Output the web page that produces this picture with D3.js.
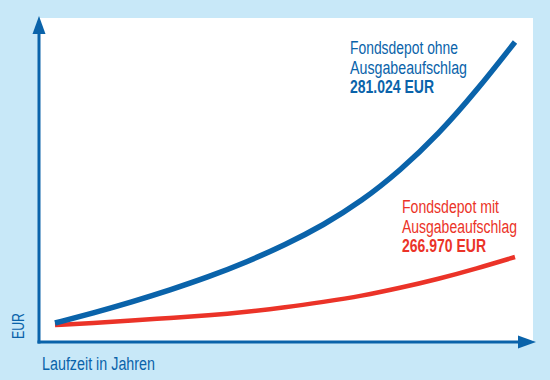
<!DOCTYPE html>
<html><head><meta charset="utf-8">
<script src="https://cdn.jsdelivr.net/npm/d3@7"></script>
<style>html,body{margin:0;padding:0;background:#c8e8f8;}svg{display:block;}</style>
</head><body>
<svg id="c" width="550" height="380"></svg>
<script>
// Data (schematic; values in thousand EUR)
const years = [0, 2.5, 5, 7.5, 10, 12.5, 15, 17.5, 20, 22.5, 25, 27.5, 30];
const ohneValues = [17.8, 27.2, 37.5, 48.7, 60.9, 74.9, 90.9, 109.4, 131.9, 160.4, 194.4, 235.4, 281.0];
const mitValues  = [15.9, 17.8, 20.1, 22.5, 24.8, 28.1, 32.3, 37.5, 43.1, 50.6, 59.0, 68.8, 79.6];
const ohneLabel = ["Fondsdepot ohne", "Ausgabeaufschlag", "281.024 EUR"];
const mitLabel  = ["Fondsdepot mit", "Ausgabeaufschlag", "266.970 EUR"];
const xTitle = "Laufzeit in Jahren";
const yTitle = "EUR";

const BLUE = "#0a63aa", RED = "#eb3328", BG = "#c8e8f8";
const FONT = "'Liberation Sans',Arial,sans-serif";

const svg = d3.select("#c");
svg.append("rect").attr("width",550).attr("height",380).attr("fill",BG);

const x = d3.scaleLinear().domain([0,30]).range([55,515]);
const y = d3.scaleLinear().domain([0,281]).range([342,42]);

// plot area
svg.append("rect").attr("x",39).attr("y",18).attr("width",494).attr("height",324).attr("fill","#fff");

const line = d3.line().x((d,i)=>x(years[i])).y(d=>y(d)).curve(d3.curveBasis);
svg.append("path").attr("d",line(mitValues)).attr("fill","none").attr("stroke",RED).attr("stroke-width",4.5);
svg.append("path").attr("d",line(ohneValues)).attr("fill","none").attr("stroke",BLUE).attr("stroke-width",5.5);

// axes
const ax = 39, ay = 342;
svg.append("line").attr("x1",ax).attr("y1",ay+1.5).attr("x2",ax).attr("y2",30).attr("stroke",BLUE).attr("stroke-width",3);
svg.append("line").attr("x1",ax-1.5).attr("y1",ay).attr("x2",522).attr("y2",ay).attr("stroke",BLUE).attr("stroke-width",3);
svg.append("path").attr("d",`M${ax},16 L${ax+6.5},34 L${ax-6.5},34 Z`).attr("fill",BLUE);
svg.append("path").attr("d",`M536,${ay} L518,${ay-6.5} L518,${ay+6.5} Z`).attr("fill",BLUE);

function label(lines, widths, x0, y0, color){
  const t = svg.append("text").attr("font-family",FONT).attr("font-size",18).attr("fill",color);
  lines.forEach((s,i)=>{
    t.append("tspan").attr("x",x0).attr("y",y0+i*19.5)
      .attr("font-weight",i===2?"bold":"normal")
      .attr("textLength",widths[i]).attr("lengthAdjust","spacingAndGlyphs").text(s);
  });
}
label(ohneLabel, [108,117,84], 350, 54, BLUE);
label(mitLabel, [97,115,84], 402, 213, RED);

svg.append("text").attr("x",42).attr("y",370).attr("font-family",FONT).attr("font-size",18).attr("fill",BLUE)
  .attr("textLength",113).attr("lengthAdjust","spacingAndGlyphs").text(xTitle);
svg.append("text").attr("transform","translate(24,339) rotate(-90)").attr("font-family",FONT).attr("font-size",17).attr("fill",BLUE)
  .attr("textLength",26).attr("lengthAdjust","spacingAndGlyphs").text(yTitle);
</script>
</body></html>
